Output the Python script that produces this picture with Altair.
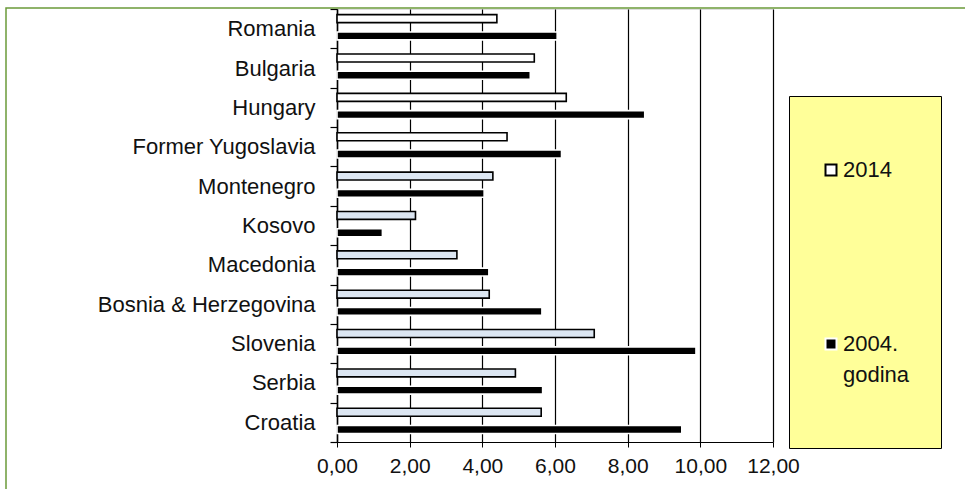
import altair as alt
import pandas as pd

# Countries, top to bottom
countries = ["Romania", "Bulgaria", "Hungary", "Former Yugoslavia", "Montenegro ",
             "Kosovo", "Macedonia ", "Bosnia & Herzegovina ", "Slovenia ",
             "Serbia ", "Croatia "]
values_2014 = [4.40, 5.43, 6.31, 4.68, 4.29, 2.16, 3.30, 4.19, 7.08, 4.91, 5.62]
values_2004 = [6.06, 5.32, 8.47, 6.18, 4.05, 1.25, 4.18, 5.64, 9.88, 5.66, 9.49]
# 2014 bars of the first four countries are white, the rest pale blue
white_2014 = ["Romania", "Bulgaria", "Hungary", "Former Yugoslavia"]
x_ticks = [0, 2, 4, 6, 8, 10, 12]

rows = []
for c, a, b in zip(countries, values_2014, values_2004):
    rows.append({"country": c, "year": "2014", "value": a,
                 "shade": "2014" if c in white_2014 else "2014-blue"})
    rows.append({"country": c, "year": "2004", "value": b, "shade": "2004"})
df = pd.DataFrame(rows)

FONT = "Liberation Sans"
GREEN = "#6B9A3A"
TEXT = "#111111"

shade_domain = ["2014", "2004", "2014-blue"]
fill_range = ["#FFFFFF", "#000000", "#DCE6F2"]
stroke_range = ["#000000", "#FFFFFF", "#000000"]

legend = alt.Legend(
    title=" ", titleFontSize=12, titlePadding=20,
    values=["2014", "2004"],
    labelExpr="datum.value == '2004' ? ['2004.', 'godina', ''] : '2014'",
    orient="none", legendX=452, legendY=87,
    fillColor="#FFFF99", strokeColor="#000000",
    padding=31, rowPadding=152,
    symbolType="square", symbolSize=121, symbolStrokeWidth=2,
    labelFont=FONT, labelFontSize=22, labelColor=TEXT,
    labelOffset=1, labelLimit=400,
)

bars = alt.Chart(df).mark_bar(strokeWidth=1.6).encode(
    y=alt.Y("country:N", sort=countries,
            scale=alt.Scale(paddingInner=0, paddingOuter=0),
            axis=alt.Axis(title=None, tickBand="extent", tickSize=7,
                          tickColor="#000000", tickWidth=1.2,
                          domainColor="#000000", domainWidth=1.5,
                          labelPadding=15,
                          labelFont=FONT, labelFontSize=22,
                          labelColor=TEXT, labelLimit=400, grid=False)),
    yOffset=alt.YOffset("year:N", sort=["2014", "2004"],
                        scale=alt.Scale(paddingInner=0.54, paddingOuter=0.41,
                                        align=0.4)),
    x=alt.X("value:Q", scale=alt.Scale(domain=[0, 12], nice=False),
            axis=alt.Axis(title=None, values=x_ticks, tickSize=5,
                          tickColor="#000000", domainColor="#000000",
                          domainWidth=1.2, grid=True, gridColor="#000000",
                          gridWidth=1.2, gridOpacity=1, labelPadding=8,
                          labelOverlap=False, labelFlush=False,
                          labelFont=FONT, labelFontSize=21,
                          labelColor=TEXT,
                          labelExpr="replace(format(datum.value, '.2f'), '.', ',')")),
    fill=alt.Fill("shade:N", scale=alt.Scale(domain=shade_domain, range=fill_range),
                  legend=legend),
    stroke=alt.Stroke("shade:N", scale=alt.Scale(domain=shade_domain, range=stroke_range),
                      legend=legend),
)

# outer chart frame
frame = alt.Chart(pd.DataFrame({"k": [0]})).mark_rect(
    fillOpacity=0, stroke=GREEN, strokeWidth=1.5
).encode(
    x=alt.value(-331), x2=alt.value(700),
    y=alt.value(-1), y2=alt.value(600),
)

chart = alt.layer(bars, frame).properties(
    width=436, height=433,
    autosize=alt.AutoSizeParams(type="none"),
    padding={"left": 337, "top": 9, "right": 192, "bottom": 47},
    background="#FFFFFF",
).configure_view(
    fill="#C0C0C0", strokeWidth=0
).configure(
    style={"guide-label": {"lineHeight": 31}}
)

chart.save("out.html", embed_options={"renderer": "svg", "actions": False})
